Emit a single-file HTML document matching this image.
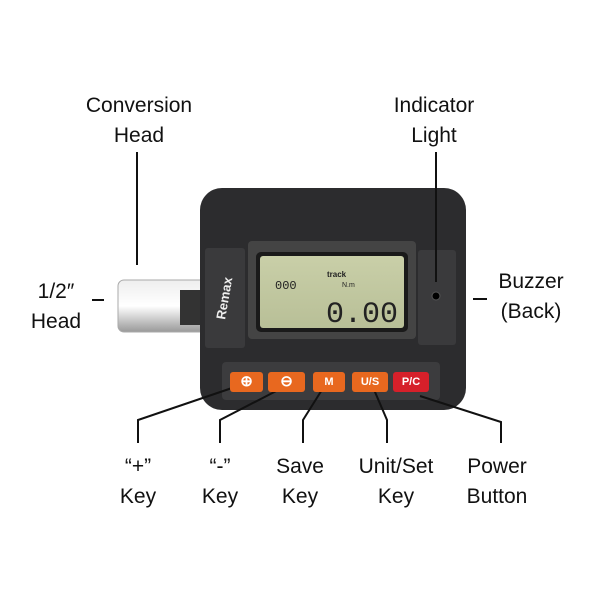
<!DOCTYPE html>
<html><head><style>
body{margin:0;width:600px;height:600px;background:#fff;position:relative;overflow:hidden;font-family:"Liberation Sans",sans-serif}
.t{position:absolute;font-size:21px;color:#111;text-align:center;line-height:30px;width:140px;margin-left:-70px}
.b{position:absolute;border-radius:3px;color:#fff;font-size:11px;font-weight:bold;text-align:center;line-height:20px}
</style></head><body>
<svg width="600" height="600" style="position:absolute;left:0;top:0">
<defs>
<linearGradient id="w" x1="0" y1="0" x2="0" y2="1"><stop offset="0" stop-color="#eee"/><stop offset=".5" stop-color="#fff"/><stop offset="1" stop-color="#999"/></linearGradient>
<linearGradient id="lcd" x1="0" y1="0" x2="0" y2="1"><stop offset="0" stop-color="#c9cfa8"/><stop offset="1" stop-color="#b8bf97"/></linearGradient>
</defs>
<rect x="118" y="280" width="90" height="52" rx="6" fill="url(#w)" stroke="#aaa"/>
<rect x="180" y="290" width="22" height="35" fill="#333"/>
<rect x="200" y="188" width="266" height="222" rx="22" fill="#2c2c2e"/>
<rect x="205" y="248" width="40" height="100" rx="3" fill="#3a3a3c"/>
<rect x="418" y="250" width="38" height="95" rx="3" fill="#3a3a3c"/>
<circle cx="436" cy="296" r="4" fill="#000" stroke="#555"/>
<rect x="248" y="241" width="168" height="98" rx="4" fill="#444"/>
<rect x="256" y="252" width="152" height="80" rx="5" fill="#1a1a1a"/>
<rect x="260" y="256" width="144" height="72" rx="3" fill="url(#lcd)"/>
<text x="275" y="289" font-size="12" font-family="Liberation Mono" fill="#222">000</text>
<text x="327" y="277" font-size="8" font-weight="bold" fill="#222">track</text>
<text x="342" y="287" font-size="7" fill="#222">N.m</text>
<text x="398" y="322" font-size="30" font-family="Liberation Mono" fill="#222" text-anchor="end">0.00</text>
<text transform="translate(225,320) rotate(-80)" font-size="13" font-weight="bold" fill="#eee">Remax</text>
<rect x="222" y="362" width="218" height="38" rx="4" fill="#3c3c3e"/>
<g stroke="#111" stroke-width="2" fill="none">
<path d="M137 152V265"/><path d="M436 152V282"/>
<path d="M92 300H104"/><path d="M473 299H487"/>
<path d="M232 388L138 420V443"/>
<path d="M282 388L220 420V443"/>
<path d="M325 385L303 420V443"/>
<path d="M372 385L387 420V443"/>
<path d="M420 396L501 422V443"/>
</g>
</svg>
<div class="b" style="left:230px;top:372px;width:33px;background:#e8681f;font-size:15px">⊕</div>
<div class="b" style="left:268px;top:372px;width:37px;background:#e8681f;font-size:15px">⊖</div>
<div class="b" style="left:313px;top:372px;width:32px;background:#e8681f">M</div>
<div class="b" style="left:352px;top:372px;width:36px;background:#e8681f">U/S</div>
<div class="b" style="left:393px;top:372px;width:36px;background:#d6202a">P/C</div>
<div class="t" style="left:139px;top:91px">Conversion<br>Head</div>
<div class="t" style="left:434px;top:91px">Indicator<br>Light</div>
<div class="t" style="left:56px;top:277px">1/2″<br>Head</div>
<div class="t" style="left:531px;top:267px">Buzzer<br>(Back)</div>
<div class="t" style="left:138px;top:452px">“+”<br>Key</div>
<div class="t" style="left:220px;top:452px">“-”<br>Key</div>
<div class="t" style="left:300px;top:452px">Save<br>Key</div>
<div class="t" style="left:396px;top:452px">Unit/Set<br>Key</div>
<div class="t" style="left:497px;top:452px">Power<br>Button</div>
</body></html>
